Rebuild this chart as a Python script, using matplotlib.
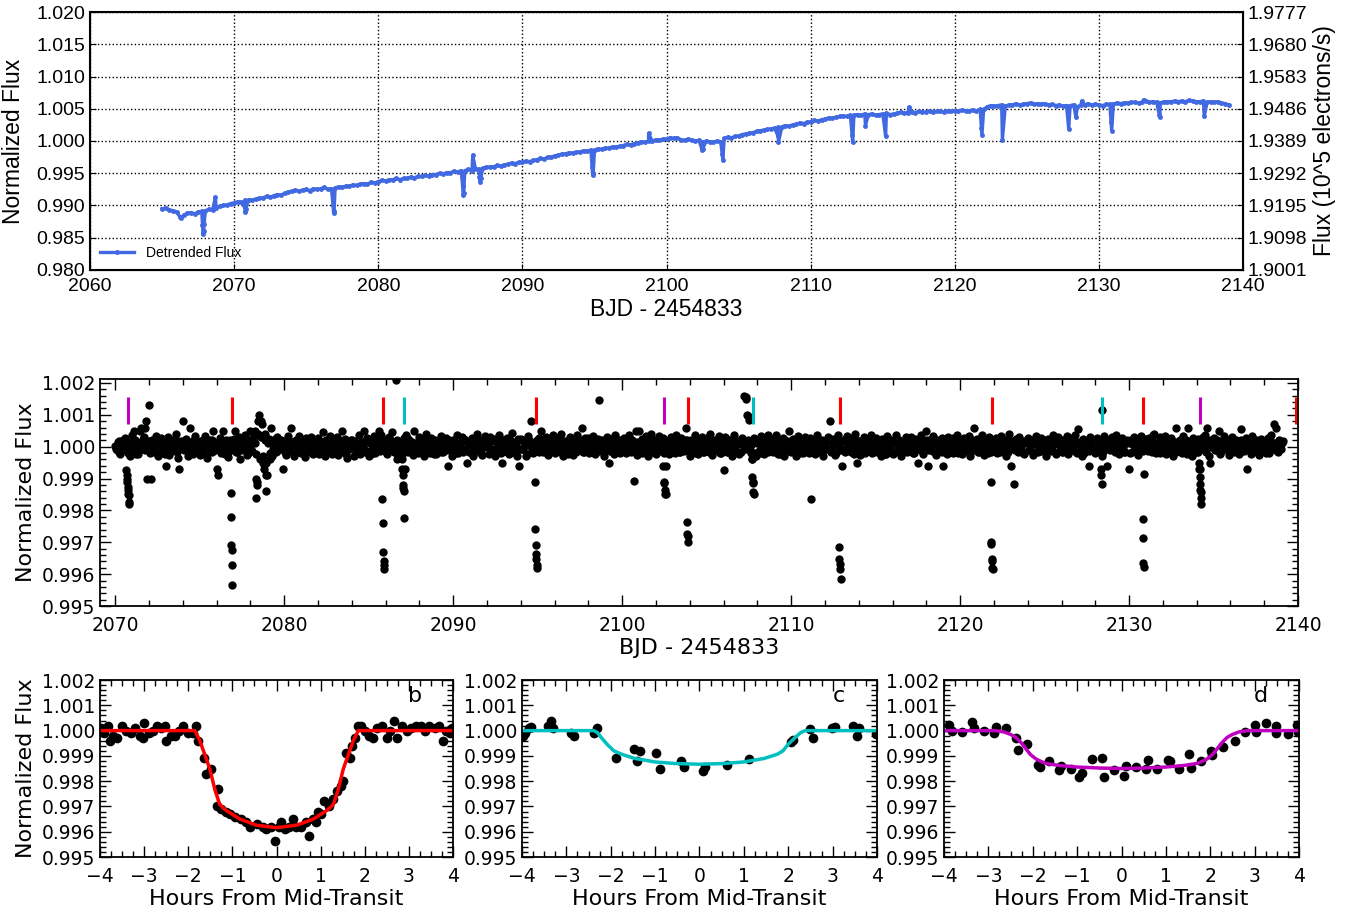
import numpy as np
import matplotlib
matplotlib.use('Agg')
import matplotlib.pyplot as plt
from matplotlib.ticker import MultipleLocator, FormatStrFormatter

# ---------------- top panel: raw light curve ----------------
# sampled every 0.25 d from 2065.0, flux = 1 + v*1e-4
top_t0 = 2065.0
top_step = 0.25
top_flux_e4 = [
    -105, -104, -107, -108,   -110, -118, -115, -112,   -111, -113, -110, -109,
    -108, -106, -107, -104,   -101, -100, -99, -97,     -96, -94, -95, -92,
    -91, -92, -90, -89,       -88, -86, -87, -85,       -83, -84, -81, -79,
    -78, -76, -78, -76,       -75, -77, -74, -75,       -74, -72, -75, -74,
    -73, -71, -72, -70,       -70, -68, -69, -67,       -66, -67, -64, -65,
    -63, -61, -62, -60,       -60, -58, -60, -58,       -58, -56, -57, -55,
    -55, -53, -54, -52,       -52, -50, -51, -49,       -49, -47, -48, -46,
    -46, -44, -46, -44,       -44, -42, -41, -40,       -40, -38, -39, -37,
    -36, -34, -35, -33,       -33, -31, -32, -30,       -29, -27, -28, -25,
    -25, -23, -22, -20,       -20, -18, -19, -17,       -17, -15, -16, -14,
    -14, -12, -13, -11,       -11, -9, -10, -8,         -7, -5, -6, -4,
    -3, -1, -2, 0,            0, 2, 1, 3,               3, 5, 4, 5,
    2, 1, 3, 1,               0, 1, -1, 0,              -1, -2, 0, -1,
    4, 6, 5, 7,               8, 10, 11, 12,            13, 15, 16, 17,
    18, 19, 20, 21,           22, 24, 23, 25,           26, 28, 27, 29,
    30, 32, 31, 33,           34, 36, 35, 37,           38, 39, 38, 40,
    40, 41, 40, 42,           41, 42, 40, 41,           42, 43, 41, 42,
    43, 45, 43, 44,           45, 44, 46, 45,           45, 47, 45, 46,
    46, 45, 47, 46,           47, 46, 48, 47,           47, 48, 47, 49,
    49, 53, 55, 54,           55, 56, 54, 56,           56, 58, 56, 57,
    58, 59, 57, 58,           57, 58, 56, 57,           55, 56, 54, 55,
    55, 56, 53, 56,           56, 58, 56, 57,           56, 55, 57, 57,
    57, 59, 58, 59,           59, 60, 60, 59,           60, 62, 60, 61,
    60, 59, 61, 61,           61, 62, 61, 62,           61, 63, 62, 61,
    61, 62, 60, 61,           60, 61, 59, 58,           56,
]
# transits and spikes in the raw curve
top_event_t = [2066.30, 2067.80, 2067.84, 2067.88, 2067.92, 2068.70, 2070.72, 2070.76,
               2070.80, 2076.86, 2076.90, 2076.94, 2085.85, 2085.89, 2085.93, 2086.55,
               2087.02, 2087.06, 2087.10, 2094.83, 2094.87, 2094.91, 2098.75, 2102.47,
               2102.51, 2103.86, 2103.90, 2107.72, 2107.76, 2112.87, 2112.91, 2113.80,
               2115.20, 2116.80, 2121.84, 2121.88, 2123.30, 2127.90, 2128.40, 2128.80,
               2130.84, 2130.88, 2133.10, 2134.19, 2134.23, 2137.30]
top_event_f = [-120, -130, -145, -140, -128, -87, -103, -110,
               -106, -100, -112, -108, -70, -84, -80, -22,
               -56, -63, -58, -40, -53, -50, 12, -14,
               -12, -20, -29, 8, -2, 10, -2, 24,
               7, 52, 20, 9, 2, 19, 37, 62,
               30, 16, 64, 40, 37, 38]
flux_scale = 1.9389   # 10^5 electrons/s at normalized flux 1.0

# ---------------- middle panel: detrended light curve ----------------
# sampled every 0.1 d from 2070.0, flux = 1 + v*1e-5
mid_t0 = 2070.0
mid_step = 0.1
mid_flux_e5 = [
    2, -12, 18, -22, 9, -5, 27, -15, 12, -28,
    38, 50, -24, 12, -8, 60, 15, 30, 80, -100,
    130, -100, 22, -18, 35, -30, 8, 26, -20, 14,
    -60, 30, -26, 5, 22, -12, 40, -35, -70, 18,
    80, -8, 25, -30, 60, 12, -22, 35, -14, 6,
    -25, 18, -6, 32, -35, 10, 22, -18, 50, -10,
    -70, -90, 28, 15, 50, -22, 8, -32, 20, 12,
    25, 50, -18, 30, -40, 14, -8, 36, -26, 20,
    50, -15, 35, -160, -120, 100, 80, 70, -70, -140,
    -90, 25, 60, -30, 12, -18, 30, -5, 22, -70,
    18, -25, 32, -12, 60, 8, -28, 20, -6, 35,
    -20, 12, -32, 26, 4, -15, 30, -24, 16, -8,
    28, -18, 10, 45, -30, 20, -10, 34, -22, 8,
    -14, 30, -26, 12, 50, -8, 24, -34, 18, -2,
    22, -30, 14, -12, 36, -24, 8, 50, -16, 26,
    -28, 16, -6, 32, -20, 10, 50, 38, -12, 20,
    14, -22, 30, -8, 45, -16, 210, -40, -35, 10,
    -10, 28, 36, -18, 22, 5, -25, 50, 12, -20,
    30, -12, 20, -28, 40, 6, -20, 26, -8, 14,
    -24, 18, -6, 34, -16, 8, 28, -60, 12, -30,
    20, -10, 38, -20, 6, 30, -14, 22, -50, 10,
    -18, 26, -30, 12, 40, -8, 20, -26, 14, 32,
    8, -22, 30, -12, 24, -28, 16, 36, -6, -50,
    20, -14, 28, -24, 10, 42, -18, 6, -30, -60,
    24, -8, 16, -28, 34, 12, 80, -20, 10, 4,
    -12, 26, 50, -18, 8, 30, -26, 14, -4, 36,
    -20, 10, 28, -14, 40, -30, 18, 4, -22, 30,
    12, -26, 20, 38, -8, 16, 60, -18, 26, -12,
    28, -16, 8, 34, -24, 14, 145, -10, 22, -28,
    6, 30, -50, -14, 24, -22, 36, 10, -18, 20,
    -8, 26, -20, 14, 38, -12, 22, -107, 50, -26,
    50, -18, 24, -6, 32, -28, 12, 40, -16, 20,
    -24, 16, 34, -10, 26, 8, -60, 18, -22, 30,
    12, -20, 38, 6, -16, 28, -8, 20, 60, 14,
    -30, 22, -10, 36, 14, -24, 8, 30, -18, 16,
    26, -12, 40, -26, 10, 20, -6, 34, -20, 12,
    -74, 30, -16, 22, 8, -28, 36, -10, 18, -22,
    14, 28, 160, 155, 100, 85, -20, -40, 26, -30,
    20, -14, 32, 8, -24, 16, 38, -8, 24, -18,
    10, 36, -22, 14, -6, 28, -30, 18, 4, 50,
    -16, 24, 12, -28, 34, -4, 20, -20, 30, 6,
    -12, 26, -163, 14, -24, 36, 8, -18, 22, -30,
    16, -8, 30, 80, -14, 24, -26, 12, 38, 10,
    -60, 20, -18, 32, -8, 14, 26, -22, 40, -50,
    18, -26, 10, 30, -14, 22, -6, 36, -20, 8,
    28, -16, 14, -30, 24, 6, -22, 34, -10, 20,
    -24, 12, 38, -8, 20, -28, 16, 4, 30, -14,
    10, 30, -20, 24, -6, -50, 16, 36, -24, 12,
    50, -60, 22, -12, 34, 8, -26, 18, -4, 28,
    -60, 14, -22, 30, 6, -16, 26, -8, 38, -20,
    12, -24, 28, 4, -12, 34, -28, 20, 60, -6,
    24, -18, 10, 36, -26, 14, -4, 30, -16, 20,
    -8, 26, -20, 12, 32, -14, 22, -30, 8, 40,
    -60, 10, -116, 24, -16, 30, -6, 18, -24, 14,
    28, -12, 20, -26, 8, 34, -18, 12, 26, -8,
    16, -30, 24, 4, -14, 36, 10, -22, 30, -10,
    22, -16, 8, 32, -24, 14, 26, -10, 38, -20,
    56, 12, -28, 24, 6, -12, -60, 30, -8, 18,
    -20, 26, 8, -14, -30, 34, 10, -60, 22, -8,
    30, -12, 36, 18, -24, 6, 28, -16, 12, 20,
    -70, 22, -18, 30, 8, -26, 16, 34, -10, 12,
    24, -14, 28, -6, 36, 40, -20, 10, 30, -16,
    12, 34, -22, 18, -8, 26, -28, 14, 60, -10,
    20, -16, 32, 6, -24, 60, 12, -30, 28, 8,
    -18, 24, -70, 10, 30, 38, 60, -28, -50, 16,
    26, -10, 20, 50, -22, 14, 34, -6, 18, -26,
    8, 30, -18, 22, 4, -24, 56, 12, -14, 28,
    -70, 16, -22, 34, -8, 20, 10, -26, 24, 6,
    14, -20, 28, -10, 36, 8, 70, 60, -16, 22,
    -8, 18,
]
# second set of samples, half a step later (2070.05, 2070.15, ...)
mid2_t0 = 2070.05
mid_flux2_e5 = [
    -8, 14, -18, 6, 22, -4, 10, -20, 16, 4,
    -14, 20, 8, -22, 12, -6, 24, -12, 4, 18,
    -20, 10, -4, 22, -16, 8, 18, -10, 2, -24,
    12, -8, 20, -14, 4, 24, -18, 10, -2, 16,
    -10, 22, 0, -20, 14, -6, 20, 8, -16, 12,
    18, -12, 6, -24, 16, 2, -14, 22, -4, 10,
    -6, 16, -20, 10, -2, 20, -16, 6, 14, -10,
    8, -18, 14, 4, -12, 22, -6, 12, -20, 2,
    -12, 24, 10, -22, 40, -40, 30, -30, 20, -50,
    10, -20, 16, -6, 24, -14, 4, 18, -8, 12,
    -16, 6, 22, -10, 14, -22, 10, 2, -14, 20,
    4, -18, 12, 20, -8, 16, -20, 8, 22, -4,
    -22, 14, -2, 10, 18, -16, 6, -12, 24, 0,
    16, -8, 20, -18, 4, 12, -22, 14, -6, 22,
    -4, 18, -14, 8, -20, 16, 2, -10, 20, -16,
    12, -22, 6, 18, -8, 22, -14, 10, 16, -6,
    -18, 8, 20, -12, 14, -4, 22, -20, 6, 18,
    -20, 10, -6, 24, -14, 16, 2, -18, 12, -8,
    14, -4, 22, -16, 8, 18, -10, 4, -22, 20,
    -6, 16, -18, 10, 22, -12, 6, 20, -14, 2,
    18, -20, 8, -4, 16, -16, 24, -8, 12, -18,
    -10, 20, 4, -14, 12, 22, -20, 8, -2, 16,
    6, -16, 18, -8, 22, -12, 2, 14, -20, 10,
    -14, 12, -4, 20, -18, 6, 16, -10, 24, -6,
    20, -8, 14, -22, 4, 18, -12, 10, -2, 22,
    -16, 4, 20, -10, 14, -20, 8, 22, -6, 12,
    10, -14, 2, 18, -20, 12, -4, 16, 20, -12,
    -2, 22, -16, 8, 12, -8, 20, -18, 4, 14,
    -20, 6, 18, -12, 2, 24, -14, 10, -6, 16,
    12, -10, 20, 4, -16, 14, -2, 22, -20, 8,
    -6, 18, -12, 20, 6, -18, 12, -8, 16, 2,
    14, -20, 8, 22, -10, 4, -16, 18, -4, 12,
    -16, 10, -2, 16, -20, 20, 6, -12, 14, -8,
    20, -6, 12, -18, 8, 16, -14, 4, 22, -10,
    -12, 16, 4, -20, 18, -6, 12, 22, -16, 6,
    8, -18, 20, -4, 14, -12, 2, 18, -20, 10,
    -4, 12, -16, 20, 6, -10, 22, -14, 8, 16,
    -18, 6, 14, -8, 20, -12, 4, 16, -20, 10,
    12, -20, 4, 18, -8, 22, -16, 6, 14, -4,
    -10, 16, 8, -22, 12, -4, 20, -14, 2, 18,
    6, -12, 22, -6, 14, -20, 10, 16, -8, 4,
    -20, 12, -4, 18, -14, 6, 22, -10, 16, -2,
    14, -8, 20, -16, 4, 12, -20, 18, 2, -12,
    -6, 22, -14, 8, 16, -18, 10, -2, 20, -10,
    16, -4, 10, -20, 22, -8, 4, 14, -16, 12,
    -14, 20, 2, -10, 16, -22, 12, 6, -6, 18,
    10, -16, 20, 4, -12, 14, -8, 22, -18, 6,
    -4, 14, -20, 12, 20, -6, 2, -14, 16, -10,
    20, -10, 6, 16, -18, 10, 22, -4, 12, -16,
    -12, 4, 18, -8, 14, -20, 8, 16, -2, 20,
    8, -18, 12, -4, 22, -14, 6, 18, -10, 2,
    -16, 20, -6, 10, -2, 16, -20, 12, 4, -12,
    14, -8, 22, -16, 6, 12, -10, 20, -18, 8,
    -2, 18, -12, 4, 20, -6, 14, -20, 10, 16,
    -10, 6, 16, -18, 12, 22, -8, 2, -14, 20,
    12, -14, 4, 20, -10, 8, -20, 16, 6, -4,
    -18, 10, 22, -6, 14, -12, 4, 20, -16, 8,
    16, -2, 10, -20, 18, 6, -14, 12, 22, -8,
    -12, 20, -4, 8, -18, 14, 2, 22, -10, 12,
    4, -16, 18, -10, 12, 20, -6, -18, 10, 16,
    -20, 8, 14, -4, 22, -12, 6, 18, -14, 2,
    10, -10, 20, -18, 6, 16, -8, 12, -20, 22,
    -6, 16, -14, 8, 20, -4, 12, -16, 4, 18,
    14, -20, 6, 22, -10, 2, 18, -12, 10, -4,
    -16, 10, 20, -8, 14, -18, 6, 22, -2, 12,
    8, -12, 16, -20, 4, 18, -6, 10, 20, -14,
    -10, 22, -4, 12, -16, 6, 20, -8, 14, 2,
    18, -6, 10, -18, 22, -12, 4, 16, -10, 8,
    -4, 14, -20, 20, 6, -8, 12, -14, 18, 4,
    10,
]
# extra scattered points between the grid samples
mid_extra_t = [2071.45, 2071.75, 2078.25, 2078.33, 2078.37, 2078.45, 2078.72,
               2078.85, 2078.95, 2079.15, 2107.35, 2107.45, 2128.40, 2086.75]
mid_extra_f = [50, 60, 50, -100, -110, 80, -50, 40, -90, -40, 150, 95, 114, -30]

# in-transit points
mid_tr_t = [2070.66, 2070.68, 2070.70, 2070.72, 2070.74, 2070.76, 2070.78, 2070.80, 2070.82, 2070.84,
            2076.82, 2076.85, 2076.87, 2076.89, 2076.91, 2076.93,
            2085.81, 2085.84, 2085.86, 2085.88, 2085.90, 2085.92,
            2086.95, 2086.98, 2087.00, 2087.03, 2087.05, 2087.07, 2087.10, 2087.13,
            2094.83, 2094.85, 2094.87, 2094.89, 2094.91, 2094.93, 2094.95,
            2102.42, 2102.45, 2102.48, 2102.51, 2102.54, 2102.57,
            2103.84, 2103.86, 2103.88, 2103.90,
            2107.68, 2107.71, 2107.73, 2107.75, 2107.77, 2107.80,
            2112.84, 2112.86, 2112.88, 2112.90, 2112.92,
            2121.80, 2121.83, 2121.85, 2121.87, 2121.89, 2121.91, 2121.93,
            2128.33, 2128.36, 2128.39,
            2130.88, 2130.80, 2130.82, 2130.84, 2130.86,
            2134.13, 2134.16, 2134.18, 2134.20, 2134.22, 2134.24, 2134.26, 2134.28]
mid_tr_f = [-74, -90, -100, -110, -126, -137, -147, -153, -174, -180,
            -144, -220, -310, -325, -370, -435,
            -163, -240, -330, -360, -370, -385,
            -40, -70, -90, -120, -130, -140, -225, -70,
            -110, -258, -310, -337, -353, -370, -382,
            -60, -110, -115, -137, -147, -150,
            -237, -274, -280, -300,
            -40, -95, -110, -115, -142, -147,
            -316, -353, -368, -384, -416,
            -110, -300, -305, -351, -360, -381, -385,
            -70, -90, -116,
            -87, -228, -287, -366, -379,
            -50, -70, -95, -116, -137, -142, -161, -179]

# transit epochs of the three planets
b_epochs = [2076.88, 2085.87, 2094.89, 2103.87, 2112.88, 2121.86, 2130.84, 2139.87]
c_epochs = [2087.06, 2107.74, 2128.37]
d_epochs = [2070.74, 2102.49, 2134.20]

# ---------------- bottom panels: folded transits ----------------
b_hours = [-3.97, -3.90, -3.81, -3.77, -3.70, -3.62, -3.51, -3.42, -3.30, -3.20, -3.10, -3.02,
           -3.00, -2.90, -2.80, -2.72, -2.62, -2.53, -2.50, -2.40, -2.30, -2.20, -2.12, -2.00,
           -1.90, -1.82, -1.78, -1.64, -1.59, -1.49, -1.33, -1.35, -1.26, -1.15, -1.06, -0.95,
           -0.80, -0.70, -0.61, -0.45, -0.31, -0.23, -0.12, -0.04, 0.05, 0.10, 0.20, 0.29,
           0.37, 0.45, 0.56, 0.66, 0.73, 0.82, 0.90, 0.93, 1.00, 1.08, 1.19, 1.27,
           1.36, 1.46, 1.50, 1.57, 1.66, 1.72, 1.78, 1.84, 1.92, 2.00, 2.10, 2.18,
           2.28, 2.40, 2.50, 2.58, 2.66, 2.74, 2.85, 2.95, 3.05, 3.16, 3.27, 3.36,
           3.46, 3.58, 3.69, 3.77, 3.85, 3.92, 3.98]
b_flux = [1.0001, 0.9999, 1.0002, 0.9996, 0.9998, 0.9997, 1.0002, 1.0000, 0.9999, 1.0001, 0.9998, 0.9997,
          1.0003, 0.9999, 1.0000, 1.0002, 1.0001, 1.0002, 0.9996, 0.9998, 0.9998, 1.0000, 1.0002, 0.9999,
          0.9999, 1.0002, 0.9996, 0.9989, 0.9983, 0.9985, 0.9977, 0.9970, 0.9969, 0.9968, 0.9967, 0.9966,
          0.9965, 0.9964, 0.9962, 0.9963, 0.9962, 0.9961, 0.9962, 0.99565, 0.9962, 0.9964, 0.9961, 0.9962,
          0.9965, 0.9962, 0.9962, 0.9964, 0.99585, 0.9965, 0.9964, 0.9968, 0.9967, 0.9972, 0.9970, 0.9973,
          0.9976, 0.9978, 0.9980, 0.9991, 0.9989, 0.9994, 0.9997, 1.0002, 1.0002, 1.0000, 0.9998, 0.9997,
          1.0001, 1.0002, 0.9997, 1.0000, 1.0004, 0.9997, 1.0002, 1.0000, 1.0001, 1.0002, 1.0002, 1.0000,
          1.0002, 1.0001, 1.0002, 0.9996, 1.0000, 0.9999, 1.0001]
b_model_x = [-4, -1.85, -1.74, -1.63, -1.51, -1.40, -1.29, -1.20, -1.13, -0.83, -0.46, 0,
             0.46, 0.83, 1.13, 1.20, 1.29, 1.40, 1.51, 1.63, 1.74, 1.85, 4]
b_model_y = [1.0, 1.0, 0.9996, 0.99907, 0.99847, 0.99768, 0.99709, 0.99693, 0.99683, 0.9965, 0.99626, 0.99616,
             0.99626, 0.9965, 0.99683, 0.99693, 0.99709, 0.99768, 0.99847, 0.99907, 0.9996, 1.0, 1.0]

c_hours = [-3.97, -3.93, -3.85, -3.80, -3.42, -3.35, -3.30, -2.90, -2.82, -2.37, -2.30,
           -1.88, -1.47, -1.35, -1.40, -0.97, -0.90, -0.41, -0.35, 0.08, 0.13, 0.63, 1.11,
           2.07, 2.10, 2.49, 2.55, 2.98, 3.06, 3.47, 3.55, 3.60, 3.97]
c_flux = [0.9998, 0.99992, 1.00012, 1.00016, 1.0002, 1.0004, 1.0001, 0.9999, 0.9998, 0.9999, 1.0001,
          0.99893, 0.99926, 0.9992, 0.9988, 0.9991, 0.99847, 0.9988, 0.99855, 0.9984, 0.99855, 0.99865, 0.99887,
          0.99953, 0.99963, 1.00005, 0.99972, 1.0001, 1.00016, 1.0002, 0.9998, 1.0001, 0.99985]
c_model_x = [-4, -2.38, -2.30, -2.21, -2.06, -1.93, -1.76, -1.46, -1.0, -0.56, 0,
             0.56, 1.0, 1.46, 1.76, 1.88, 2.0, 2.15, 2.28, 2.38, 4]
c_model_y = [1.0, 1.0, 0.99992, 0.99972, 0.99942, 0.9992, 0.99907, 0.9989, 0.99876, 0.9987, 0.99867,
             0.9987, 0.99876, 0.9989, 0.99907, 0.9992, 0.99946, 0.99972, 0.99992, 1.0, 1.0]

d_hours = [-3.89, -3.81, -3.60, -3.38, -3.32, -3.10, -2.87, -2.83, -2.61, -2.38, -2.34, -2.12,
           -1.89, -1.84, -1.63, -1.40, -1.37, -1.14, -0.95, -0.88, -0.67, -0.45, -0.39, -0.17,
           0.06, 0.10, 0.32, 0.55, 0.59, 0.81, 1.04, 1.09, 1.30, 1.53, 1.57, 1.79,
           2.02, 2.04, 2.28, 2.55, 2.78, 3.00, 3.04, 3.26, 3.48, 3.49, 3.75, 3.95, 3.97]
d_flux = [1.00022, 1.0, 0.99993, 1.00036, 1.0001, 1.0, 0.99991, 1.00013, 1.0001, 0.9997, 0.99924, 0.99947,
          0.99863, 0.99857, 0.9988, 0.99844, 0.9986, 0.9985, 0.99817, 0.99833, 0.99889, 0.99893, 0.99817, 0.99844,
          0.9982, 0.9986, 0.99857, 0.9985, 0.99883, 0.9985, 0.99884, 0.9988, 0.9985, 0.99907, 0.99853, 0.9988,
          0.9992, 0.99903, 0.99937, 0.9996, 0.99993, 1.00022, 0.99993, 1.00029, 1.00017, 0.9999, 0.99987, 1.00023, 0.99993]
d_model_x = [-4, -2.85, -2.65, -2.50, -2.38, -2.25, -2.15, -2.05, -1.92, -1.80, -1.70, -1.40, -1.0, -0.5, 0,
             0.5, 1.0, 1.40, 1.70, 1.80, 1.92, 2.05, 2.15, 2.25, 2.38, 2.50, 2.65, 2.85, 4]
d_model_y = [1.0, 1.0, 0.99995, 0.99985, 0.99973, 0.9995, 0.99927, 0.99905, 0.99887, 0.99877, 0.9987, 0.99862,
             0.99856, 0.99852, 0.9985,
             0.99852, 0.99856, 0.99862, 0.9987, 0.99877, 0.99887, 0.99905, 0.99927, 0.9995, 0.99973, 0.99985,
             0.99995, 1.0, 1.0]

# =====================================================================
fig = plt.figure(figsize=(13.54, 9.17), dpi=100)
helv = ['Liberation Sans', 'DejaVu Sans']

# --- top panel
top_t = np.concatenate([top_t0 + top_step * np.arange(len(top_flux_e4)), top_event_t])
top_f = 1 + 1e-4 * np.concatenate([top_flux_e4, top_event_f])
order = np.argsort(top_t)

ax1 = fig.add_axes([0.0665, 0.7056, 0.8516, 0.2813])
ax1.plot(top_t[order], top_f[order], '-', marker='.', color='royalblue', lw=2.4, ms=5,
         label='Detrended Flux')
ax1.set_xlim(2060, 2140)
ax1.set_ylim(0.98, 1.02)
ax1.set_yticks(np.arange(0.98, 1.0201, 0.005))
ax1.yaxis.set_major_formatter(FormatStrFormatter('%.3f'))
ax1.grid(True, ls=':', color='k', lw=1)
ax1.tick_params(direction='in', length=4, labelsize=14)
ax1.tick_params(axis='x', pad=6)
for lab in ax1.get_xticklabels() + ax1.get_yticklabels():
    lab.set_family(helv)
ax1.set_xlabel('BJD - 2454833', fontsize=16.5, family=helv, labelpad=2)
ax1.set_ylabel('Normalized Flux', fontsize=16.5, family=helv, labelpad=8)
leg = ax1.legend(loc='lower left', frameon=False, prop={'family': helv, 'size': 10},
                 handlelength=2.5, borderaxespad=0.3)
for sp in ax1.spines.values():
    sp.set_linewidth(1.5)

ax2 = ax1.twinx()
ax2.set_ylim(0.98 * flux_scale, 1.02 * flux_scale)
ax2.set_yticks(np.arange(0.98, 1.0201, 0.005) * flux_scale)
ax2.yaxis.set_major_formatter(FormatStrFormatter('%.4f'))
ax2.tick_params(direction='in', length=4, labelsize=14)
for lab in ax2.get_yticklabels():
    lab.set_family(helv)
ax2.set_ylabel('Flux (10^5 electrons/s)', fontsize=16.5, family=helv, labelpad=4)


def style_axes(ax, xminor, yminor):
    ax.xaxis.set_minor_locator(MultipleLocator(xminor))
    ax.yaxis.set_minor_locator(MultipleLocator(yminor))
    ax.yaxis.set_major_formatter(FormatStrFormatter('%.3f'))
    ax.tick_params(which='both', direction='in', top=True, right=True, labelsize=13.5)
    ax.tick_params(which='major', length=8, width=1)
    ax.tick_params(which='minor', length=4, width=1)
    ax.tick_params(axis='x', which='major', pad=7)
    for sp in ax.spines.values():
        sp.set_linewidth(1.3)


# --- middle panel
mid_t = np.concatenate([mid_t0 + mid_step * np.arange(len(mid_flux_e5)),
                        mid2_t0 + mid_step * np.arange(len(mid_flux2_e5)),
                        mid_extra_t, mid_tr_t])
mid_f = 1 + 1e-5 * np.concatenate([mid_flux_e5, mid_flux2_e5, mid_extra_f, mid_tr_f])

ax3 = fig.add_axes([0.0739, 0.3391, 0.8848, 0.2475])
ax3.plot(mid_t, mid_f, 'o', color='k', ms=6, mew=0)
ax3.vlines(b_epochs, 1.0007, 1.00157, colors='r', lw=2.2)
ax3.vlines(c_epochs, 1.0007, 1.00157, colors='c', lw=2.2)
ax3.vlines(d_epochs, 1.0007, 1.00157, colors='m', lw=2.2)
ax3.set_xlim(2069.1, 2140)
ax3.set_ylim(0.995, 1.00212)
ax3.set_yticks(np.arange(0.995, 1.00201, 0.001))
ax3.xaxis.set_major_locator(MultipleLocator(10))
style_axes(ax3, 2, 0.0002)
ax3.set_xlabel('BJD - 2454833', fontsize=16, labelpad=2)
ax3.set_ylabel('Normalized Flux', fontsize=16)

# --- bottom panels
panels = [
    ([0.0739, 0.0654, 0.2607, 0.193], b_hours, b_flux, b_model_x, b_model_y, 'r', 'b'),
    ([0.3855, 0.0654, 0.2622, 0.193], c_hours, c_flux, c_model_x, c_model_y, 'c', 'c'),
    ([0.6972, 0.0654, 0.2622, 0.193], d_hours, d_flux, d_model_x, d_model_y, 'm', 'd'),
]
for i, (rect, hx, fx, mx, my, col, name) in enumerate(panels):
    ax = fig.add_axes(rect)
    ax.plot(hx, fx, 'o', color='k', ms=7, mew=0)
    ax.plot(mx, my, '-', color=col, lw=2.5)
    ax.set_xlim(-4, 4)
    ax.set_ylim(0.995, 1.002)
    ax.set_yticks(np.arange(0.995, 1.00201, 0.001))
    ax.xaxis.set_major_locator(MultipleLocator(1))
    style_axes(ax, 0.25, 0.0002)
    ax.text(3.15, 1.00135, name, fontsize=16, ha='center', va='center')
    ax.set_xlabel('Hours From Mid-Transit', fontsize=16, labelpad=2)
    if i == 0:
        ax.set_ylabel('Normalized Flux', fontsize=16)

fig.savefig('out.png', dpi=100)
